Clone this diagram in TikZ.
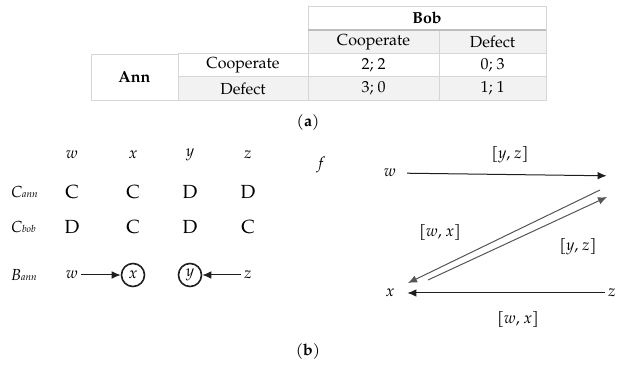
\documentclass[tikz,border=0pt]{standalone}
\usepackage{fontspec}
\setmainfont{TeX Gyre Pagella}
\usepackage{tikz}
\usetikzlibrary{arrows.meta,calc}
\definecolor{tabline}{RGB}{214,214,214}
\definecolor{tabhead}{RGB}{190,190,190}
\definecolor{tabfill}{RGB}{242,242,242}
\definecolor{gmedge}{RGB}{30,30,30}
\definecolor{gmdiag}{RGB}{85,85,85}
\newcommand{\vr}[1]{\textit{#1}}
\tikzset{
  cell/.style={
    draw=tabline, line width=0.4pt, inner sep=0pt, outer sep=0pt,
    minimum height=11.75pt, align=center
  },
  lbl/.style={inner sep=1.5pt},
  act/.style={lbl, font=\fontsize{9.5}{11}\selectfont},
  pick/.style={circle, draw=gmedge, line width=0.8pt, inner sep=0pt, minimum size=11.5pt},
  arr/.style={-{Latex[length=4.5pt,width=3.8pt]}, draw=gmedge, line width=0.5pt},
  darr/.style={arr, draw=gmdiag},
  every picture/.append style={font=\fontsize{8}{10}\selectfont, x=0.5pt, y=-0.5pt}
}
\begin{document}
\begin{tikzpicture}
  \useasboundingbox (0,0) rectangle (617,368);
  % (a) payoff table
  \node[cell, minimum width=119pt] (bob) at (427,18) {\textbf{Bob}};
  \node[cell, fill=tabfill, minimum width=65.5pt] (bob-c) at (373.5,42) {Cooperate};
  \node[cell, fill=tabfill, minimum width=53.5pt] (bob-d) at (492.5,42) {Defect};
  \node[cell, minimum width=43.5pt, minimum height=23pt] (ann) at (134.5,77) {\textbf{Ann}};
  \foreach \n/\ry/\fc/\s/\a/\b in {c/65.5/white/Cooperate/2; 2/0; 3, d/88.5/tabfill/Defect/3; 0/1; 1} {
    \node[cell, fill=\fc, minimum width=65pt] (ann-\n) at (243,\ry) {\s};
    \node[cell, fill=\fc, minimum width=65.5pt] (\n-c) at (373.5,\ry) {\a};
    \node[cell, fill=\fc, minimum width=53.5pt] (\n-d) at (492.5,\ry) {\b};
  }
  \draw[tabhead, line width=0.8pt] (bob.south west) -- (bob.south east);
  \node (capa) at (308,123) {(\textbf{a})};

  % (b) left: strategies and best replies
  \foreach \s/\px/\a/\b in {w/72/C/D, x/133/C/C, y/190/D/D, z/248/D/C} {
    \node[lbl] (h\s) at (\px,155) {\vr{\s}};
    \node[act] (ca\s) at (\px,192) {\a};
    \node[act] (cb\s) at (\px,227) {\b};
  }
  \node[lbl, anchor=west] (cann) at (8,192) {\vr{C}{\tiny\vr{ann}}};
  \node[lbl, anchor=west] (cbob) at (8,227) {\vr{C}{\tiny\vr{bob}}};
  \node[lbl, anchor=west] (bann) at (8,275) {\vr{B}{\tiny\vr{ann}}};
  \node[lbl] (bw) at (72,275) {\vr{w}};
  \node[pick] (bx) at (133,275) {\vr{x}};
  \node[pick] (by) at (190,275) {\vr{y}};
  \node[lbl] (bz) at (248,275) {\vr{z}};
  \draw[arr] (bw) -- (bx);
  \draw[arr] (bz) -- (by);

  % (b) right: response map f
  \node[lbl] (f) at (322,165) {\vr{f}};
  \node[lbl] (fw) at (390,173) {\vr{w}};
  \node[lbl] (fy) at (622,176) {\vr{y}};
  \node[lbl] (fx) at (390,293) {\vr{x}};
  \node[lbl] (fz) at (612,293) {\vr{z}};
  \draw[arr, shorten <=4pt, shorten >=4pt] (fw) -- (fy);
  \draw[darr] ([shift={(-22,14)}]fy.center) -- ([shift={(18,-10)}]fx.center);
  \draw[darr] ([shift={(38,-13)}]fx.center) -- ([shift={(-15,21)}]fy.center);
  \draw[arr, shorten >=5pt] (fz) -- (fx);
  \node[lbl] (lyz1) at (510,155) {[\vr{y}, \vr{z}]};
  \node[lbl] (lwx1) at (440,233) {[\vr{w}, \vr{x}]};
  \node[lbl] (lyz2) at (578,247) {[\vr{y}, \vr{z}]};
  \node[lbl] (lwx2) at (518,320) {[\vr{w}, \vr{x}]};
  \node (capb) at (308,352) {(\textbf{b})};
\end{tikzpicture}
\end{document}
